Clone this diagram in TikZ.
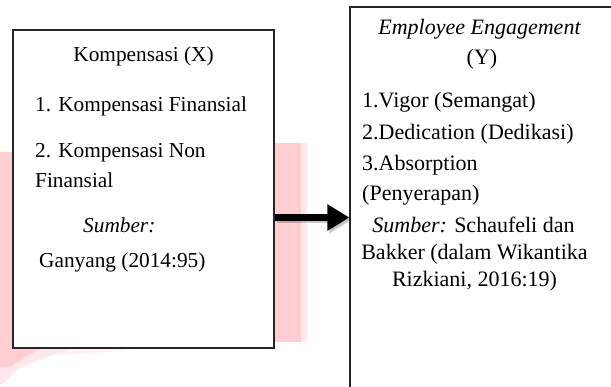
\documentclass[tikz,border=0pt]{standalone}
\usepackage{fontspec}
\setmainfont{Liberation Serif}
\usetikzlibrary{arrows.meta}
\definecolor{wmpink}{RGB}{255,205,210}
\definecolor{wmpinklight}{RGB}{255,232,235}
\definecolor{wmpinkfaint}{RGB}{255,242,244}
\tikzset{
  box/.style={draw=black!85, line width=1.2pt, fill=none, inner sep=0pt},
  ltxt/.style={font=\fontsize{21.3}{25}\selectfont, inner sep=0pt, anchor=base west},
  ctxt/.style={font=\fontsize{21.3}{25}\selectfont, inner sep=0pt, anchor=base},
  rtxt/.style={font=\fontsize{22}{26}\selectfont, inner sep=0pt, anchor=base west},
  rctxt/.style={font=\fontsize{22}{26}\selectfont, inner sep=0pt, anchor=base},
  bigarrow/.style={line width=6.5pt, -{Triangle[length=22pt,width=25pt]}},
  shadowarrow/.style={line width=6.5pt, black, opacity=0.22, -{Triangle[length=22pt,width=25pt]}}
}
\begin{document}
\begin{tikzpicture}[x=1pt,y=1pt]
\useasboundingbox (0,0) rectangle (611,387);
\clip (0,0) rectangle (611,387);
\fill[white] (0,0) rectangle (611,387);
% watermark traces
\fill[wmpinklight] (301,45) rectangle (307,244);
\fill[wmpink] (275,45) rectangle (301,244);
\fill[wmpinkfaint] (60,38) -- (125,38) -- (125,36) -- (60,32) -- cycle;
\fill[wmpinklight] (13,38) -- (70,38) -- (45,29) -- (20,19) -- (8,8) -- (3,3) -- (0,3) -- (0,20) -- cycle;
\fill[wmpink] (0,20) -- (0,235) -- (13,235) -- (13,38) -- (40,38) -- (25,30) -- (10,20) -- cycle;
% boxes
\node[box, minimum width=261pt, minimum height=318pt] (left) at (143.5,198) {};
\node[box, minimum width=300pt, minimum height=393pt] (right) at (500,183.5) {};
% left texts
\node[ctxt] (lx) at (143.5,325) {Kompensasi (X)};
\node[ltxt] (l1) at (35,275) {1. Kompensasi Finansial};
\node[ltxt] (l2) at (35,229) {2. Kompensasi Non};
\node[ltxt] (l2b) at (35,199) {Finansial};
\node[ltxt] (ls) at (83,154) {\itshape Sumber:};
\node[ltxt] (lg) at (39,119) {Ganyang (2014:95)};
% right texts
\node[rctxt] (ry) at (479.5,352) {\itshape Employee Engagement};
\node[rctxt] (ryy) at (482,322) {(Y)};
\node[rtxt] (r1) at (362,279) {1.Vigor (Semangat)};
\node[rtxt] (r2) at (362,247) {2.Dedication (Dedikasi)};
\node[rtxt] (r3) at (362,216) {3.Absorption};
\node[rtxt] (r3b) at (362,186) {(Penyerapan)};
\node[rctxt] (rs1) at (473.5,154) {\textit{Sumber:} Schaufeli dan};
\node[rctxt] (rs2) at (474.5,127) {Bakker (dalam Wikantika};
\node[rctxt] (rs3) at (474.5,100) {Rizkiani, 2016:19)};
% arrow
\coordinate (ay) at (0,169.5);
\coordinate (ays) at (0,167);
\draw[shadowarrow] ([xshift=2pt]left.east |- ays) -- ([xshift=2pt]right.west |- ays);
\draw[bigarrow] (left.east |- ay) -- (right.west |- ay);
\end{tikzpicture}
\end{document}
